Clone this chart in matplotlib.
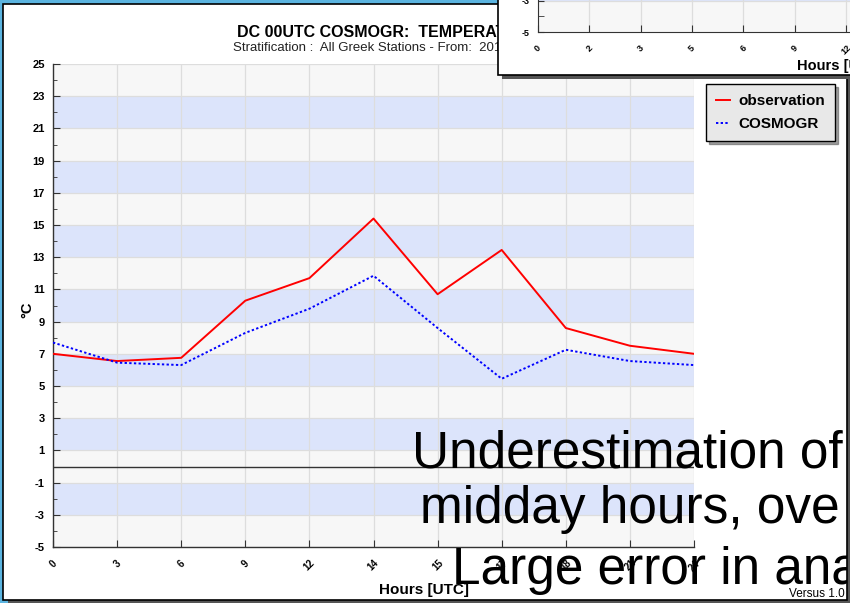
import matplotlib
matplotlib.use("Agg")
import matplotlib.pyplot as plt
from matplotlib.patches import Rectangle

# ---------------- data ----------------
hour_labels = ["0", "3", "6", "9", "12", "14", "15", "17", "18", "21", "24"]
observation = [7.0, 6.55, 6.75, 10.3, 11.7, 15.4, 10.7, 13.45, 8.6, 7.5, 7.0]
cosmogr = [7.7, 6.45, 6.3, 8.3, 9.8, 11.85, 8.6, 5.45, 7.25, 6.55, 6.3]
y_ticks = list(range(-5, 26, 2))
blue_bands = [-3, 1, 5, 9, 13, 17, 21]
inset_labels = ["0", "2", "3", "5", "6", "9", "12"]

title = "DC 00UTC COSMOGR:  TEMPERATURE"
subtitle = "Stratification :  All Greek Stations - From:  2011"
overlay_lines = ["Underestimation of", "midday hours, ove", "Large error in ana"]

W, H = 850, 603
plt.rcParams['font.family'] = ['Liberation Sans', 'DejaVu Sans']
plt.rcParams['axes.unicode_minus'] = False

def fx(px):
    return px / W

def fy(py):
    return 1 - py / H

fig = plt.figure(figsize=(8.5, 6.03), dpi=100)
fig.patch.set_facecolor('#5BB4E0')

# slide frame and shadow
shadow = Rectangle((fx(8), fy(603)), fx(842), 599 / H, transform=fig.transFigure,
                   facecolor='#555555', edgecolor='none', zorder=-3)
fig.add_artist(shadow)
frame = Rectangle((fx(3), fy(600)), fx(844), 596 / H, transform=fig.transFigure,
                  facecolor='white', edgecolor='black', lw=1.2, zorder=-2)
fig.add_artist(frame)

# ---------------- main axes ----------------
ax = fig.add_axes([fx(53), fy(547), fx(694 - 53), (547 - 64) / H])
ax.set_facecolor('#F7F7F7')
x = list(range(len(hour_labels)))
for b in blue_bands:
    ax.axhspan(b, b + 2, color='#DCE4FB', zorder=0, lw=0)
for yv in y_ticks:
    ax.axhline(yv, color='#DDDDDD', lw=0.9, zorder=0.5)
for xv in x:
    ax.axvline(xv, color='#DDDDDD', lw=0.9, zorder=0.5)
ax.axhline(0, color='#333333', lw=1.0, zorder=1)

l1, = ax.plot(x, observation, color='#FF0000', lw=1.4, zorder=3, label='observation')
l2, = ax.plot(x, cosmogr, color='#0000FF', lw=1.4, ls=(0, (1.2, 1.2)), zorder=3, label='COSMOGR')

ax.set_xlim(0, len(x) - 1)
ax.set_ylim(-5, 25)
ax.set_yticks(y_ticks)
ax.set_yticks(range(-5, 26), minor=True)
ax.set_xticks(x)
ax.set_xticklabels(hour_labels, rotation=45, ha='center', fontsize=7, fontweight='bold')
ax.tick_params(axis='x', direction='in', length=5, color='#333333', pad=8)
ax.tick_params(axis='y', which='both', direction='in', color='#333333')
ax.tick_params(axis='y', which='major', length=5, labelsize=8, pad=6)
ax.tick_params(axis='y', which='minor', length=3)
for lab in ax.get_yticklabels():
    lab.set_fontweight('bold')
for s in ['top', 'right']:
    ax.spines[s].set_visible(False)
for s in ['left', 'bottom']:
    ax.spines[s].set_color('#333333')
    ax.spines[s].set_linewidth(1.0)

fig.text(fx(27), fy(310), "°C", rotation=90, ha='center', va='center',
         fontsize=10.5, fontweight='bold')
fig.text(fx(424), fy(590), "Hours [UTC]", ha='center', va='center',
         fontsize=11, fontweight='bold')
fig.text(fx(845), fy(594), "Versus 1.0", ha='right', va='center', fontsize=8.5)

fig.text(fx(237), fy(37), title, ha='left', va='baseline', fontsize=11.5, fontweight='bold')
fig.text(fx(233), fy(51), subtitle, ha='left', va='baseline', fontsize=9.5, color='#222222')

leg = ax.legend(handles=[l1, l2], loc='upper left', bbox_to_anchor=(fx(706), fy(84)),
                bbox_transform=fig.transFigure, borderaxespad=0, fancybox=False,
                shadow=True, facecolor='#E8E8E8', edgecolor='black', framealpha=1,
                prop={'weight': 'bold', 'size': 11}, handlelength=0.9,
                handletextpad=0.55, borderpad=0.65, labelspacing=0.6)
leg.get_frame().set_linewidth(1.0)

# ---------------- inset (overlapping chart) ----------------
ishadow = Rectangle((fx(502), fy(79)), fx(350), 79 / H, transform=fig.transFigure,
                    facecolor='#555555', edgecolor='none', zorder=5)
fig.add_artist(ishadow)
ibox = Rectangle((fx(498), fy(75)), fx(356), 80 / H, transform=fig.transFigure,
                 facecolor='white', edgecolor='black', lw=1.2, zorder=5.1)
fig.add_artist(ibox)

iax = fig.add_axes([fx(538), fy(32), fx(850 - 538), 33 / H], zorder=6)
iax.set_facecolor('#F7F7F7')
ix = list(range(len(inset_labels)))
iax.axhspan(-3, 25, color='#DCE4FB', lw=0, zorder=0)
for xv in ix:
    iax.axvline(xv, color='#DDDDDD', lw=0.9, zorder=0.5)
iax.axhline(-3, color='#DDDDDD', lw=0.9, zorder=0.5)
iax.set_xlim(0, (850 - 538) / 51.3)
iax.set_ylim(-5, -5 + 33 / 15.5)
iax.set_yticks([-5, -3])
iax.set_yticks([-4], minor=True)
iax.set_yticklabels(["-5", "-3"], fontsize=6.5, fontweight='bold')
iax.set_xticks(ix)
iax.set_xticklabels(inset_labels, rotation=45, ha='center', fontsize=6.5, fontweight='bold')
iax.tick_params(axis='x', direction='in', length=5, color='#333333', pad=8)
iax.tick_params(axis='y', which='both', direction='in', length=4, color='#333333', pad=6)
for s in ['top', 'right']:
    iax.spines[s].set_visible(False)
for s in ['left', 'bottom']:
    iax.spines[s].set_color('#333333')
fig.text(fx(797), fy(66), "Hours [UTC]", ha='left', va='center', fontsize=10.5,
         fontweight='bold', zorder=7)

# ---------------- overlay slide text ----------------
overlay_pos = [(412, 468), (420, 523), (452, 584)]
for (px, py), line in zip(overlay_pos, overlay_lines):
    t = fig.text(fx(px), fy(py), line, ha='left', va='baseline', fontsize=37,
                 color='black', zorder=10)
    t.set_clip_path(frame)

fig.savefig("out.png", dpi=100, facecolor=fig.get_facecolor())
